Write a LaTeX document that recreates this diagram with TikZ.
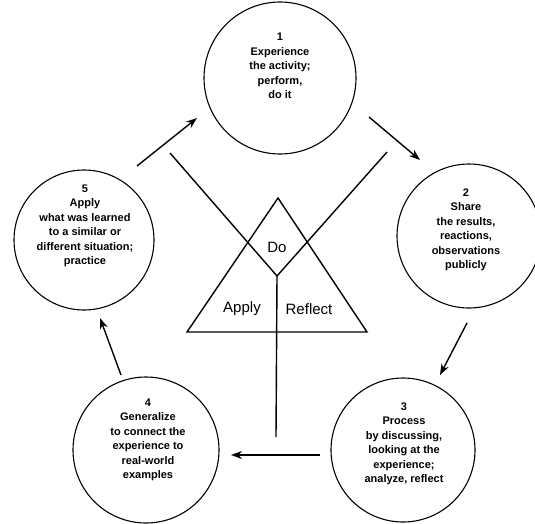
\documentclass[tikz,border=0pt]{standalone}
\usepackage{fontspec}
\setmainfont{Liberation Sans}
\usetikzlibrary{arrows.meta}
\tikzset{
  ring/.style={draw, circle, line width=1.1pt, inner sep=0pt},
  ctext/.style={align=center, font=\bfseries\fontsize{11}{14.5}\selectfont, inner sep=0pt},
  tlabel/.style={font=\fontsize{15}{18}\selectfont, inner sep=0pt},
  arr/.style={line width=1.4pt, -{Stealth[length=11pt, width=8pt, inset=3.5pt]}},
  ln/.style={line width=1.4pt}
}
\begin{document}
\begin{tikzpicture}[x=1pt, y=-1pt]
\useasboundingbox (0,0) rectangle (535,523);
% circles
\node[ring, minimum size=152pt] (c1) at (280,78) {};
\node[ring, minimum size=144pt] (c2) at (469,236) {};
\node[ring, minimum size=144pt] (c3) at (403,450) {};
\node[ring, minimum size=146pt] (c4) at (146,450) {};
\node[ring, minimum size=140pt] (c5) at (84,240) {};
% texts
\node[ctext] (t1) at (280,66) {1\\Experience\\the activity;\\perform,\\do it};
\node[ctext] (t2) at (466,230) {2\\Share\\the results,\\reactions,\\observations\\publicly};
\node[ctext] (t3) at (404,444) {3\\Process\\by discussing,\\looking at the\\experience;\\analyze, reflect};
\node[ctext] (t4) at (148,440) {4\\Generalize\\to connect the\\experience to\\real-world\\examples};
\node[ctext] (t5) at (85,226) {5\\Apply\\what was learned\\to a similar or\\different situation;\\practice};
% arrow end points
\coordinate (a51s) at (137,166); \coordinate (a51e) at (197,118);
\coordinate (a12s) at (369,117); \coordinate (a12e) at (420,160);
\coordinate (a23s) at (467,323); \coordinate (a23e) at (440,375);
\coordinate (a34s) at (320,455); \coordinate (a34e) at (231,455);
\coordinate (a45s) at (121,375); \coordinate (a45e) at (100,318);
\draw[arr] (a51s) -- (a51e);
\draw[arr] (a12s) -- (a12e);
\draw[arr] (a23s) -- (a23e);
\draw[arr] (a34s) -- (a34e);
\draw[arr] (a45s) -- (a45e);
% triangle
\coordinate (tA) at (278,198);
\coordinate (tL) at (187,332);
\coordinate (tR) at (367,332);
\draw[ln, line join=miter] (tA) -- (tL) -- (tR) -- cycle;
% X lines
\coordinate (xl) at (170,153);
\coordinate (xr) at (387,152);
\coordinate (xv) at (277,276);
\coordinate (xb) at (276,437);
\draw[ln] (xl) -- (xv) -- (xr);
\draw[ln] (xv) -- (xb);
% labels
\node[tlabel] (ldo) at (277,247) {Do};
\node[tlabel] (lap) at (242,309) {Apply};
\node[tlabel] (lre) at (309,309) {Reflect};
\end{tikzpicture}
\end{document}
